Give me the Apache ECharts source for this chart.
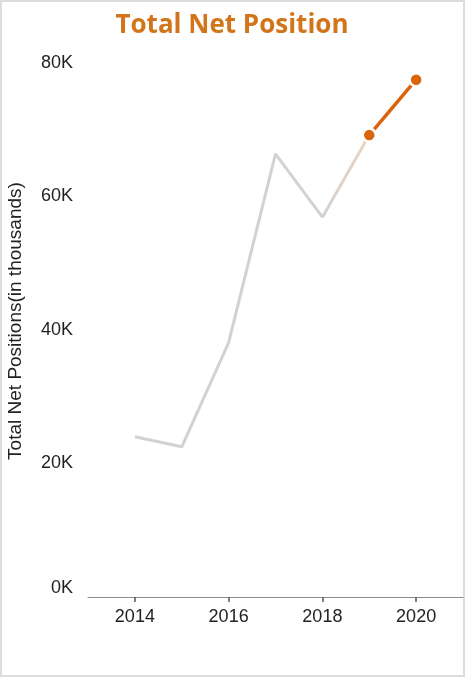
<!DOCTYPE html>
<html>
<head>
<meta charset="utf-8">
<script src="https://cdn.jsdelivr.net/npm/echarts@6/dist/echarts.min.js"></script>
<style>
html,body{margin:0;padding:0;background:#fff;}
#chart{width:470px;height:678px;}
</style>
</head>
<body>
<div id="chart"></div>
<script>
// Data (values in thousands)
const years = [2014, 2015, 2016, 2017, 2018, 2019, 2020];
const netPosition = [24.0, 22.5, 38.1, 66.4, 56.9, 69.2, 77.5];
const xTickYears = [2014, 2016, 2018, 2020];
const yTicks = [0, 20, 40, 60, 80];
const titleText = 'Total Net Position';
const yAxisTitle = 'Total Net Positions(in thousands)';

const pts = years.map((y, i) => [y, netPosition[i]]);
const histPts = pts.slice(0, 5);     // 2014-2018
const bridgePts = pts.slice(4, 6);   // 2018-2019
const recentPts = pts.slice(5);      // 2019-2020

const chart = echarts.init(document.getElementById('chart'));
chart.setOption({
  animation: false,
  backgroundColor: '#fff',
  title: {
    text: titleText,
    left: 227, top: 8, textAlign: 'center',
    textStyle: { fontFamily: 'Open Sans', fontWeight: 'bold', fontSize: 26, color: '#d2741a' }
  },
  graphic: [{
    type: 'rect', silent: true, z: -1,
    shape: { x: 1, y: 1, width: 463, height: 675 },
    style: { fill: 'none', stroke: '#dcdcdc', lineWidth: 2 }
  }],
  grid: { left: 88, right: 7, top: 63, bottom: 81, containLabel: false, outerBoundsMode: 'none' },
  xAxis: {
    type: 'value', min: 2013, max: 2021, interval: 1,
    axisLine: { show: true, lineStyle: { color: '#8c8c8c', width: 1 } },
    axisTick: { show: true, customValues: xTickYears, length: 5, lineStyle: { color: '#555', width: 1.5 } },
    axisLabel: {
      customValues: xTickYears, margin: 11,
      fontFamily: 'Liberation Sans', fontSize: 18, color: '#222',
      formatter: v => String(v)
    },
    splitLine: { show: false }
  },
  yAxis: {
    type: 'value', min: 0, max: 80, interval: 20,
    name: yAxisTitle, nameLocation: 'middle', nameGap: 63, nameRotate: 90,
    nameTextStyle: { fontFamily: 'Liberation Sans', fontSize: 19, color: '#222', padding: [0, 0, 0, 18] },
    axisLine: { show: false }, axisTick: { show: false },
    splitLine: { show: false },
    axisLabel: {
      margin: 15, fontFamily: 'Liberation Sans', fontSize: 18, color: '#222',
      verticalAlignMinLabel: 'bottom',
      formatter: v => (yTicks.includes(v) ? v + 'K' : '')
    }
  },
  series: [
    {
      type: 'line', data: histPts, symbol: 'none', z: 2,
      lineStyle: { color: '#d2d2d2', width: 3 }
    },
    {
      type: 'line', data: bridgePts, symbol: 'none', z: 2,
      lineStyle: {
        width: 3,
        color: new echarts.graphic.LinearGradient(0, 1, 1, 0, [
          { offset: 0, color: '#d4d2d0' },
          { offset: 1, color: '#ecd2be' }
        ])
      }
    },
    {
      type: 'line', data: recentPts, symbol: 'circle', symbolSize: 13, z: 3,
      lineStyle: { color: '#d9650d', width: 3.5 },
      itemStyle: { color: '#d9650d', borderColor: '#fff', borderWidth: 2.5 }
    }
  ]
});
</script>
</body>
</html>
